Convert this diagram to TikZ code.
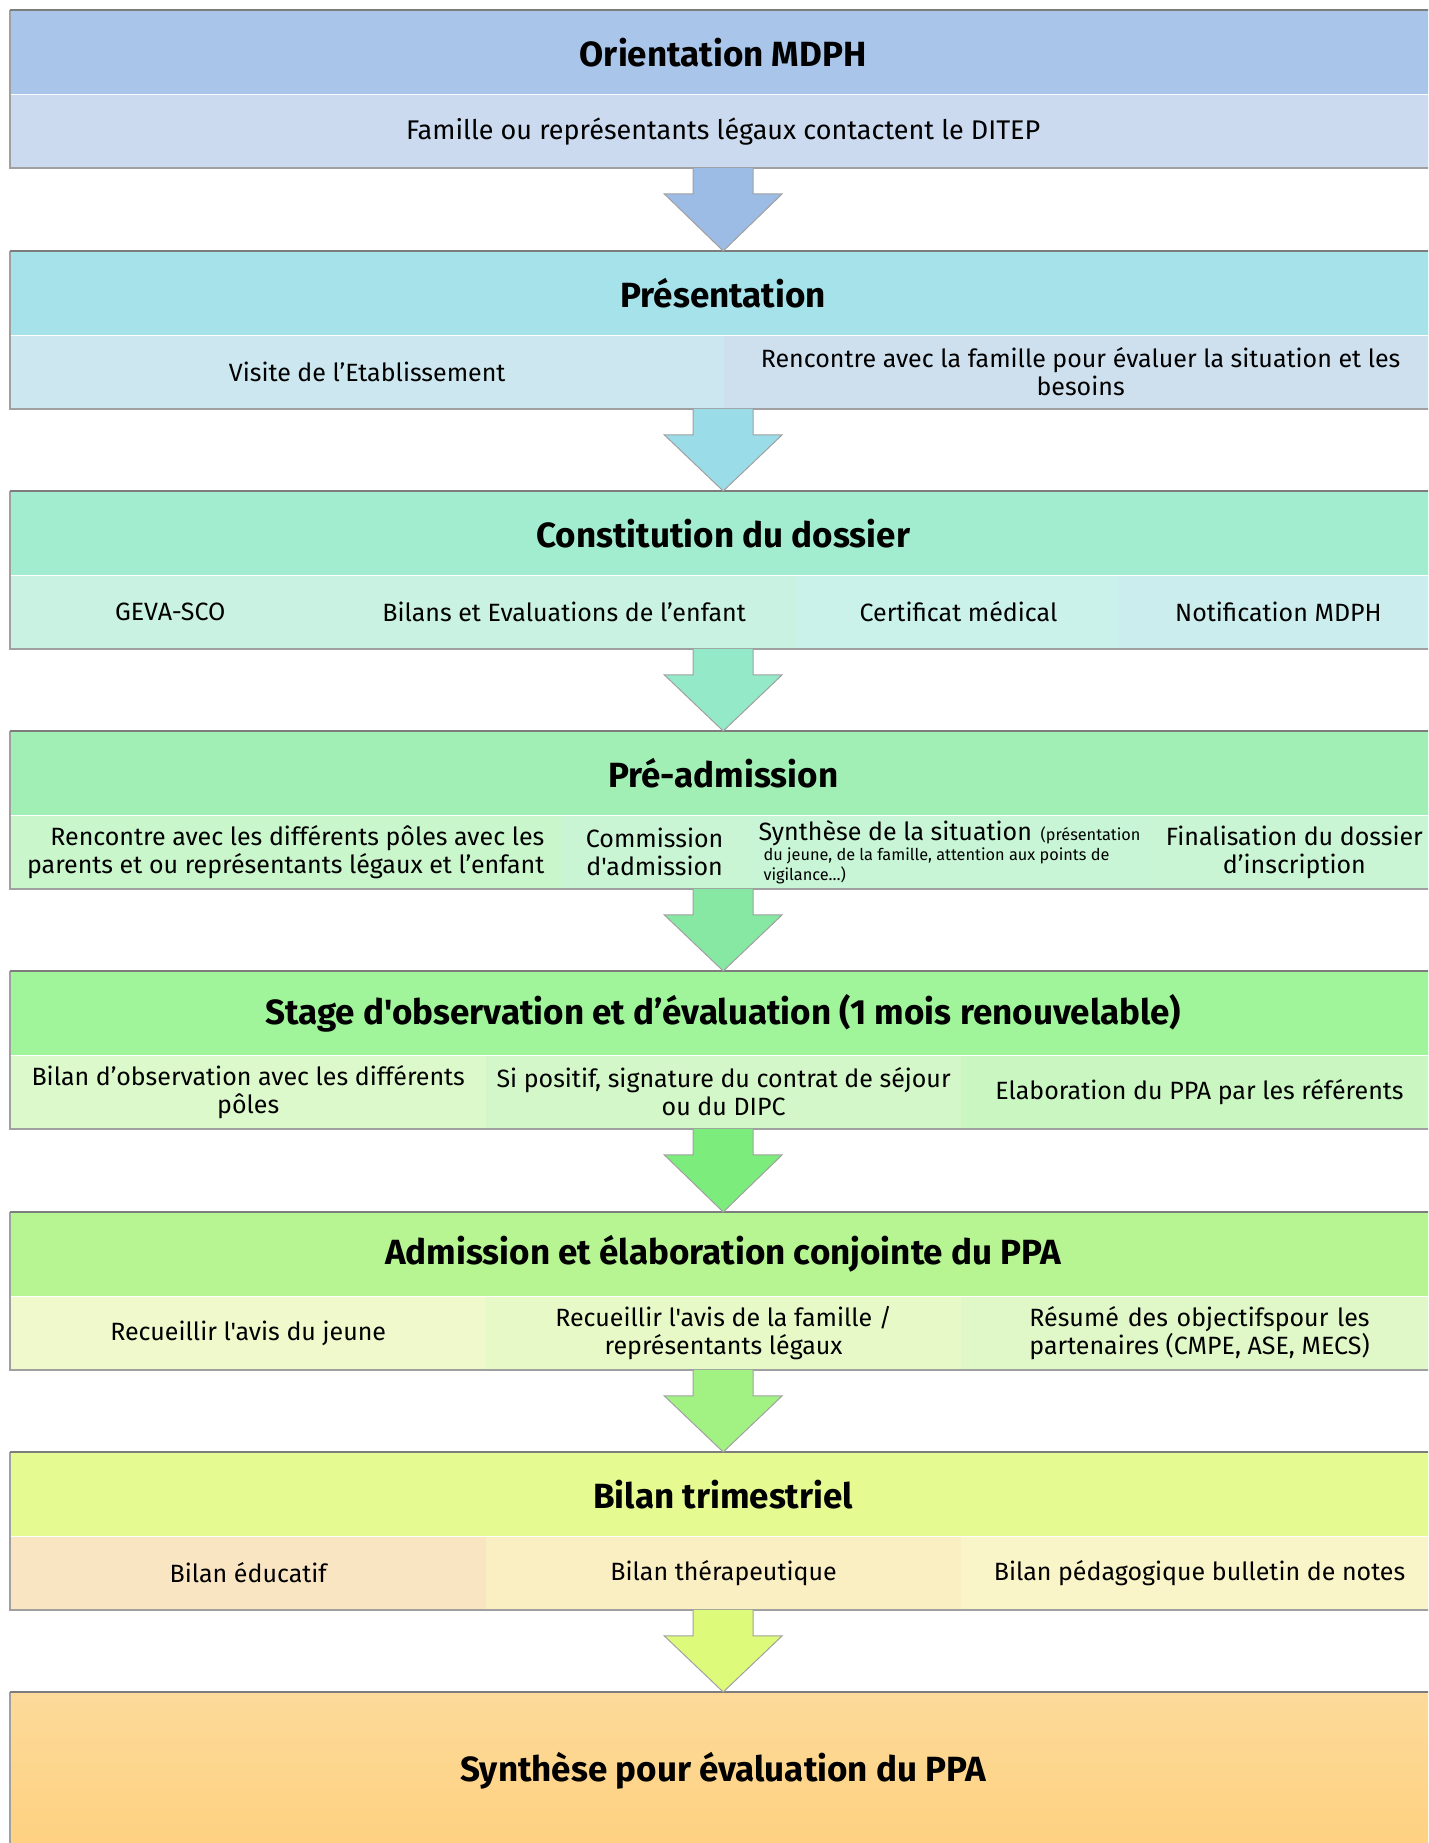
\documentclass[tikz,border=0pt]{standalone}
\usepackage{fontspec}
\newfontfamily\plexfont{Fira Sans}
\usetikzlibrary{positioning, calc}
\definecolor{lineDark}{RGB}{125,125,125}
\definecolor{lineGray}{RGB}{160,160,160}
\definecolor{oneHead}{RGB}{169,197,233}
\definecolor{oneSub}{RGB}{203,218,238}
\definecolor{oneArrow}{RGB}{157,188,229}
\definecolor{twoHead}{RGB}{166,226,234}
\definecolor{twoSubA}{RGB}{204,231,239}
\definecolor{twoSubB}{RGB}{206,224,238}
\definecolor{twoArrow}{RGB}{154,221,233}
\definecolor{threeHead}{RGB}{162,237,208}
\definecolor{threeSubA}{RGB}{201,242,226}
\definecolor{threeSubB}{RGB}{202,242,234}
\definecolor{threeSubC}{RGB}{204,237,238}
\definecolor{threeArrow}{RGB}{147,233,200}
\definecolor{fourHead}{RGB}{162,239,181}
\definecolor{fourSubA}{RGB}{201,246,203}
\definecolor{fourSubB}{RGB}{202,245,212}
\definecolor{fourSubC}{RGB}{200,245,214}
\definecolor{fourArrow}{RGB}{134,232,163}
\definecolor{fiveHead}{RGB}{160,245,154}
\definecolor{fiveSubA}{RGB}{220,249,203}
\definecolor{fiveSubB}{RGB}{211,247,200}
\definecolor{fiveSubC}{RGB}{202,246,194}
\definecolor{fiveArrow}{RGB}{124,237,124}
\definecolor{sixHead}{RGB}{182,245,146}
\definecolor{sixSubA}{RGB}{240,249,204}
\definecolor{sixSubB}{RGB}{232,249,200}
\definecolor{sixSubC}{RGB}{224,248,200}
\definecolor{sixArrow}{RGB}{162,242,131}
\definecolor{sevenHead}{RGB}{230,250,146}
\definecolor{sevenSubA}{RGB}{250,229,195}
\definecolor{sevenSubB}{RGB}{250,238,195}
\definecolor{sevenSubC}{RGB}{250,245,200}
\definecolor{sevenArrow}{RGB}{221,250,122}
\definecolor{eightTop}{RGB}{253,218,154}
\definecolor{eightBottom}{RGB}{254,209,128}

% first line stretched to the width of the second
\newsavebox\justbox
\newcommand{\justTwo}[2]{\global\setbox\justbox=\hbox{#2}\makebox[\wd\justbox][s]{#1}\\\usebox\justbox}

% block arrow from the bottom of one step to the top of the next
\newcommand{\flowArrow}[3]{%
  \draw[arrowline, fill=#3] let \p1=(#1), \p2=(#2) in
    (\x1-30pt,\y1) -- (\x1-30pt,\y1-26pt) -- (\x1-59pt,\y1-26pt) -- (\x2,\y2)
    -- (\x1+59pt,\y1-26pt) -- (\x1+30pt,\y1-26pt) -- (\x1+30pt,\y1);}

\begin{document}
\begin{tikzpicture}[x=1pt, y=-1pt,
  head/.style={anchor=north west, minimum width=1426pt, minimum height=84pt, inner sep=0pt, font=\plexfont\fontsize{35}{40}\selectfont\bfseries},
  cell/.style={minimum height=73pt, inner sep=0pt, align=center, font=\plexfont\fontsize{25}{28}\selectfont},
  topline/.style={draw=lineDark, line width=2.5pt},
  sideline/.style={draw=lineGray, line width=1.5pt},
  arrowline/.style={draw=lineGray, line width=1pt}]
\useasboundingbox (0,0) rectangle (1428,1843);
\clip (0,0) rectangle (1428,1843);

% Step 1: orientation
\node[head, fill=oneHead] (h1) at (10,10) {Orientation MDPH};
\node[cell, anchor=north west, minimum width=1426pt, fill=oneSub, font=\plexfont\fontsize{27}{30}\selectfont] (c11) at (h1.south west) {Famille ou représentants légaux contactent le DITEP};
\draw[sideline] (h1.north west) -- (c11.south west) -- (c11.south east);
\draw[topline] (h1.north west) -- (h1.north east);

% Step 2: presentation
\node[head, fill=twoHead] (h2) at (10,251) {Présentation};
\node[cell, anchor=north west, minimum width=714pt, fill=twoSubA] (c21) at (h2.south west) {Visite de l’Etablissement};
\node[cell, right=-1pt of c21, minimum width=714pt, fill=twoSubB] (c22) {Rencontre avec la famille pour évaluer la situation et les\\besoins};
\draw[sideline] (h2.north west) -- (c21.south west) -- (c22.south east);
\draw[topline] (h2.north west) -- (h2.north east);

% Step 3: file
\node[head, fill=threeHead] (h3) at (10,491) {Constitution du dossier};
\node[cell, anchor=north west, minimum width=320pt, fill=threeSubA] (c31) at (h3.south west) {GEVA-SCO};
\node[cell, right=-1pt of c31, minimum width=469pt, fill=threeSubA] (c32) {Bilans et Evaluations de l’enfant};
\node[cell, right=-1pt of c32, minimum width=321pt, fill=threeSubB] (c33) {Certificat médical};
\node[cell, right=-1pt of c33, minimum width=320pt, fill=threeSubC] (c34) {Notification MDPH};
\draw[sideline] (h3.north west) -- (c31.south west) -- (c34.south east);
\draw[topline] (h3.north west) -- (h3.north east);

% Step 4: pre-admission
\node[head, fill=fourHead] (h4) at (10,731) {Pré-admission};
\node[cell, anchor=north west, minimum width=551pt, fill=fourSubA, align=right] (c41) at (h4.south west) {Rencontre avec les différents pôles avec les\\parents et ou représentants légaux et l’enfant};
\node[cell, right=-1pt of c41, minimum width=188pt, fill=fourSubB] (c42) {Commission\\d'admission};
\node[cell, right=-1pt of c42, minimum width=403pt, fill=fourSubC, align=left, font=\plexfont\fontsize{16.3}{20}\selectfont] (c43) {{\fontsize{25}{20}\selectfont Synthèse de la situation} \ (présentation\\\hspace{5pt}du jeune, de la famille, attention aux points de\\\hspace{5pt}vigilance…)};
\node[cell, right=-1pt of c43, minimum width=288pt, fill=fourSubB] (c44) {Finalisation du dossier\\d’inscription};
\draw[sideline] (h4.north west) -- (c41.south west) -- (c44.south east);
\draw[topline] (h4.north west) -- (h4.north east);

% Step 5: observation
\node[head, fill=fiveHead] (h5) at (10,971) {Stage d'observation et d’évaluation (1 mois renouvelable)};
\node[cell, anchor=north west, minimum width=476pt, fill=fiveSubA] (c51) at (h5.south west) {Bilan d’observation avec les différents\\pôles};
\node[cell, right=-1pt of c51, minimum width=476pt, fill=fiveSubB] (c52) {Si positif, signature du contrat de séjour\\ou du DIPC};
\node[cell, right=-1pt of c52, minimum width=477pt, fill=fiveSubC] (c53) {Elaboration du PPA par les référents};
\draw[sideline] (h5.north west) -- (c51.south west) -- (c53.south east);
\draw[topline] (h5.north west) -- (h5.north east);

% Step 6: admission
\node[head, fill=sixHead] (h6) at (10,1212) {Admission et élaboration conjointe du PPA};
\node[cell, anchor=north west, minimum width=476pt, fill=sixSubA] (c61) at (h6.south west) {Recueillir l'avis du jeune};
\node[cell, right=-1pt of c61, minimum width=476pt, fill=sixSubB] (c62) {Recueillir l'avis de la famille /\\représentants légaux};
\node[cell, right=-1pt of c62, minimum width=477pt, fill=sixSubC, align=left] (c63) {\justTwo{Résumé des objectifspour les}{partenaires (CMPE, ASE, MECS)}};
\draw[sideline] (h6.north west) -- (c61.south west) -- (c63.south east);
\draw[topline] (h6.north west) -- (h6.north east);

% Step 7: quarterly review
\node[head, fill=sevenHead] (h7) at (10,1452) {Bilan trimestriel};
\node[cell, anchor=north west, minimum width=476pt, fill=sevenSubA] (c71) at (h7.south west) {Bilan éducatif};
\node[cell, right=-1pt of c71, minimum width=476pt, fill=sevenSubB] (c72) {Bilan thérapeutique};
\node[cell, right=-1pt of c72, minimum width=477pt, fill=sevenSubC] (c73) {Bilan pédagogique bulletin de notes};
\draw[sideline] (h7.north west) -- (c71.south west) -- (c73.south east);
\draw[topline] (h7.north west) -- (h7.north east);

% Step 8: synthesis
\node[head, minimum height=158pt, top color=eightTop, bottom color=eightBottom] (h8) at (10,1692) {Synthèse pour évaluation du PPA};
\draw[sideline] (h8.north west) -- (h8.south west);
\draw[topline] (h8.north west) -- (h8.north east);

% Arrows between steps
\flowArrow{h1.center |- c11.south}{h2.north}{oneArrow}
\flowArrow{h2.center |- c21.south}{h3.north}{twoArrow}
\flowArrow{h3.center |- c31.south}{h4.north}{threeArrow}
\flowArrow{h4.center |- c41.south}{h5.north}{fourArrow}
\flowArrow{h5.center |- c51.south}{h6.north}{fiveArrow}
\flowArrow{h6.center |- c61.south}{h7.north}{sixArrow}
\flowArrow{h7.center |- c71.south}{h8.north}{sevenArrow}
\end{tikzpicture}
\end{document}
